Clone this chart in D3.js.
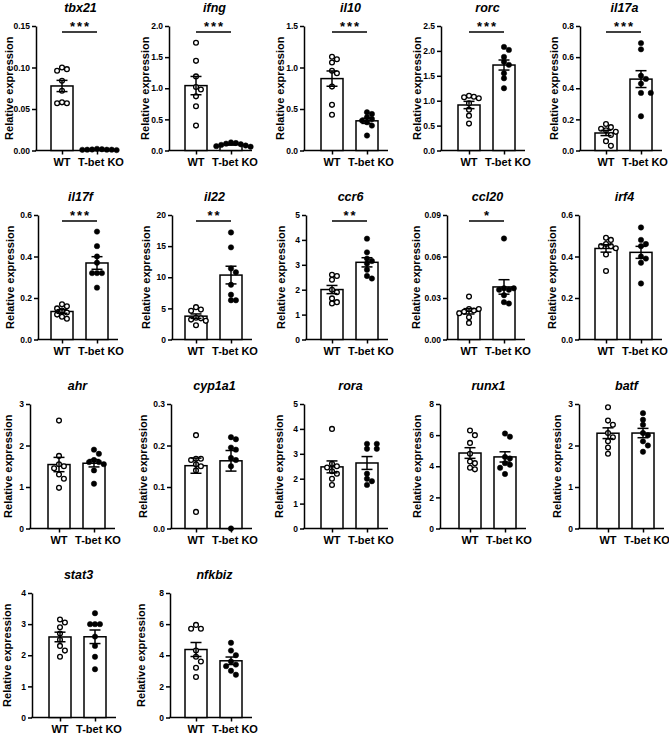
<html>
<head>
<script src="https://d3js.org/d3.v7.min.js"></script>
<style>
  body, html { margin: 0; padding: 0; background: white; }
  svg text { font-family: Arial, "Liberation Sans", sans-serif; font-weight: bold; fill: black; }
</style>
</head>
<body>
<svg id="chart" width="669" height="737"></svg>
<script>
  // data
  const genes = ["tbx21", "ifng", "il10", "rorc", "il17a",
                 "il17f", "il22", "ccr6", "ccl20", "irf4",
                 "ahr", "cyp1a1", "rora", "runx1", "batf",
                 "stat3", "nfkbiz"];
  const groups = ["WT", "T-bet KO"];

  const wtValues = [
    [0.100, 0.096, 0.098, 0.084, 0.072, 0.057, 0.058, 0.057],
    [1.73, 1.44, 1.19, 1.02, 0.98, 0.87, 0.71, 0.40],
    [1.13, 1.10, 1.06, 0.96, 0.93, 0.77, 0.55, 0.43],
    [1.08, 1.07, 1.05, 1.10, 0.95, 0.82, 0.70, 0.54],
    [0.17, 0.15, 0.14, 0.13, 0.12, 0.10, 0.06, 0.03],
    [0.17, 0.16, 0.15, 0.14, 0.13, 0.12, 0.11, 0.10],
    [5.2, 4.8, 4.6, 3.5, 3.4, 3.2, 3.0, 2.3],
    [2.6, 2.55, 2.4, 2.0, 1.9, 1.65, 1.5, 1.45],
    [0.031, 0.022, 0.022, 0.021, 0.020, 0.019, 0.016, 0.012],
    [0.49, 0.48, 0.46, 0.45, 0.45, 0.44, 0.41, 0.33],
    [2.6, 1.75, 1.55, 1.5, 1.45, 1.3, 1.2, 0.98],
    [0.225, 0.168, 0.165, 0.168, 0.155, 0.15, 0.14, 0.04],
    [4.0, 2.6, 2.5, 2.45, 2.3, 2.2, 2.0, 1.75],
    [6.3, 6.0, 5.5, 4.8, 4.3, 4.2, 3.9, 3.8],
    [2.92, 2.6, 2.5, 2.3, 2.2, 2.1, 1.95, 1.8],
    [3.15, 3.05, 2.9, 2.7, 2.5, 2.3, 2.15, 1.95],
    [5.95, 5.7, 5.7, 4.3, 3.9, 3.6, 3.2, 2.6]
  ];

  const koValues = [
    [0.001, 0.0015, 0.0005, 0.001, 0.002, 0.001, 0.0008, 0.0012],
    [0.10, 0.12, 0.07, 0.11, 0.08, 0.13, 0.09, 0.06],
    [0.46, 0.44, 0.40, 0.38, 0.36, 0.34, 0.30, 0.18],
    [2.08, 2.02, 1.88, 1.78, 1.72, 1.55, 1.45, 1.25],
    [0.69, 0.65, 0.48, 0.46, 0.43, 0.37, 0.37, 0.22],
    [0.52, 0.45, 0.40, 0.37, 0.32, 0.32, 0.32, 0.25],
    [17.2, 14.8, 11.4, 10.8, 8.8, 7.2, 6.3, 6.3],
    [4.05, 3.5, 3.25, 3.15, 3.05, 2.8, 2.55, 2.45],
    [0.073, 0.037, 0.037, 0.036, 0.036, 0.032, 0.027, 0.026],
    [0.54, 0.48, 0.46, 0.45, 0.40, 0.39, 0.37, 0.27],
    [1.9, 1.8, 1.65, 1.6, 1.6, 1.55, 1.4, 1.08],
    [0.22, 0.215, 0.195, 0.19, 0.17, 0.165, 0.15, 0.0],
    [3.4, 3.4, 3.2, 3.2, 2.2, 2.0, 1.9, 1.75],
    [6.1, 5.9, 4.6, 4.5, 4.2, 4.1, 3.9, 3.5],
    [2.78, 2.62, 2.5, 2.3, 2.25, 2.1, 2.0, 1.85],
    [3.35, 3.0, 3.0, 3.0, 2.6, 2.3, 1.95, 1.55],
    [4.8, 4.3, 4.0, 3.6, 3.4, 3.3, 3.0, 2.75]
  ];

  const yMax = [0.15, 2.0, 1.5, 2.5, 0.8, 0.6, 20, 5, 0.09, 0.6, 3, 0.3, 5, 8, 3, 4, 8];
  const yStep = [0.05, 0.5, 0.5, 0.5, 0.2, 0.2, 5, 1, 0.03, 0.2, 1, 0.1, 1, 2, 1, 1, 2];
  const yDecimals = [2, 1, 1, 1, 1, 1, 0, 0, 2, 1, 0, 1, 0, 0, 0, 0, 0];
  const stars = ["***", "***", "***", "***", "***", "***", "**", "**", "*", "", "", "", "", "", "", "", ""];

  // layout of the grid
  const rowTop = [26, 215, 404, 593];
  const plotH = 124.5;
  const axisX = [36, 169, 304, 441, 580, 38, 172, 306, 447, 579, 30, 171, 304, 440, 579, 32, 170];
  const wtX = [62, 196, 332, 469, 606, 62, 196, 332, 469, 606, 59, 196, 332, 470, 608, 60, 196];
  const labelX = [9, 145, 280, 417, 554, 10, 146, 281, 416, 552, 8, 143, 279, 417, 557, 7, 141];
  const barGap = 35, barW = 22;

  const svg = d3.select("#chart");

  function swarm(vals, y, cx) {
    const minD = 4.9, step = 4.9;
    const pts = vals.map(v => ({ v: v, py: y(v) })).sort((a, b) => b.v - a.v);
    const placed = [];
    pts.forEach(p => {
      for (let k = 0; k < 30; k++) {
        const off = k === 0 ? 0 : (k % 2 ? 1 : -1) * Math.ceil(k / 2) * step;
        const ok = placed.every(q => Math.hypot(q.px - (cx + off), q.py - p.py) >= minD);
        if (ok) { p.px = cx + off; break; }
      }
      placed.push(p);
    });
    return placed;
  }

  genes.forEach((gene, i) => {
    const row = Math.floor(i / 5);
    const top = rowTop[row];
    const base = top + plotH;
    const x0 = axisX[i];
    const x1 = wtX[i] + barGap + 21;

    const g = svg.append("g");

    const y = d3.scaleLinear().domain([0, yMax[i]]).range([base, top]);
    const x = d3.scalePoint().domain(groups).range([wtX[i], wtX[i] + barGap]);

    const ticks = d3.range(0, yMax[i] + yStep[i] / 2, yStep[i]);

    // y axis
    const ya = g.append("g")
      .attr("transform", `translate(${x0},0)`)
      .call(d3.axisLeft(y).tickValues(ticks).tickFormat(d3.format(`.${yDecimals[i]}f`))
        .tickSize(4).tickSizeOuter(0).tickPadding(2));
    ya.selectAll("path, line").attr("stroke", "black").attr("stroke-width", 1.5);
    ya.selectAll("text").style("font-size", "8.5px");

    // x axis
    const xa = g.append("g")
      .attr("transform", `translate(0,${base})`)
      .call(d3.axisBottom(x).tickSize(4).tickSizeOuter(0).tickPadding(4));
    xa.select(".domain").remove();
    xa.selectAll("line").attr("stroke", "black").attr("stroke-width", 1.5);
    xa.selectAll("text")
      .style("font-size", "11px")
      .attr("x", d => d === "WT" ? -0.5 : 3.5);
    g.append("line")
      .attr("x1", x0 - 0.75).attr("x2", x1)
      .attr("y1", base).attr("y2", base)
      .attr("stroke", "black").attr("stroke-width", 1.5);

    const sets = [wtValues[i], koValues[i]];
    const stats = sets.map(vals => {
      const m = d3.mean(vals);
      const sem = d3.deviation(vals) / Math.sqrt(vals.length);
      return { m: m, sem: sem };
    });

    // bars
    g.selectAll(".bar").data(groups).join("rect")
      .attr("x", d => x(d) - barW / 2)
      .attr("y", (d, j) => y(stats[j].m))
      .attr("width", barW)
      .attr("height", (d, j) => base - y(stats[j].m))
      .attr("fill", "white").attr("stroke", "black").attr("stroke-width", 1.5);

    // points
    groups.forEach((grp, j) => {
      const pts = swarm(sets[j], y, x(grp));
      g.selectAll(null).data(pts).join("circle")
        .attr("cx", d => d.px).attr("cy", d => d.py)
        .attr("r", j === 0 ? 2.4 : 2.7)
        .attr("fill", j === 0 ? "white" : "black")
        .attr("stroke", "black").attr("stroke-width", j === 0 ? 1.3 : 0.5);
    });

    // error bars (mean +/- SEM)
    groups.forEach((grp, j) => {
      const cx = x(grp), s = stats[j];
      const lo = y(s.m - s.sem), hi = y(s.m + s.sem);
      g.append("line").attr("x1", cx).attr("x2", cx).attr("y1", lo).attr("y2", hi)
        .attr("stroke", "black").attr("stroke-width", 1.5);
      [lo, hi].forEach(yy => {
        g.append("line").attr("x1", cx - 5.5).attr("x2", cx + 5.5).attr("y1", yy).attr("y2", yy)
          .attr("stroke", "black").attr("stroke-width", 1.5);
      });
    });

    // significance
    if (stars[i]) {
      g.append("line")
        .attr("x1", x("WT")).attr("x2", x("T-bet KO"))
        .attr("y1", top + 6).attr("y2", top + 6)
        .attr("stroke", "black").attr("stroke-width", 1.5);
      g.append("text")
        .attr("x", (x("WT") + x("T-bet KO")) / 2 + 1)
        .attr("y", top + 5)
        .attr("text-anchor", "middle")
        .style("font-size", "13px")
        .style("letter-spacing", "2px")
        .text(stars[i]);
    }

    // title
    g.append("text")
      .attr("x", (x("WT") + x("T-bet KO")) / 2 + 1)
      .attr("y", top - 14)
      .attr("text-anchor", "middle")
      .style("font-size", "12.5px")
      .style("font-style", "italic")
      .text(gene);

    // y label
    g.append("text")
      .attr("transform", `translate(${labelX[i] + 4},${(top + base) / 2}) rotate(-90)`)
      .attr("text-anchor", "middle")
      .style("font-size", "11px")
      .text("Relative expression");
  });
</script>
</body>
</html>
